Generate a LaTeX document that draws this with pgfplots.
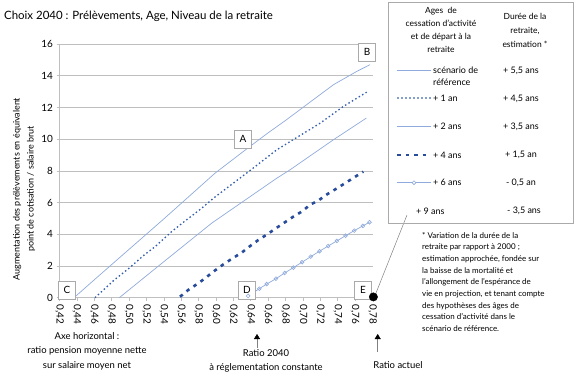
\documentclass[border=0pt]{standalone}
\usepackage{fontspec}
\setmainfont{Lato}
\usepackage{pgfplots}
\pgfplotsset{compat=1.18}
\usetikzlibrary{arrows.meta}
\definecolor{refblue}{RGB}{143,170,220}
\definecolor{dotblue}{RGB}{52,94,170}
\definecolor{darkblue}{RGB}{40,76,155}
\definecolor{gridgray}{RGB}{191,191,191}
\definecolor{boxgray}{RGB}{170,170,170}
\tikzset{lbl/.style={draw=boxgray, fill=white, minimum width=17bp, minimum height=18bp, inner sep=0pt, font=\fontsize{10}{12}\selectfont}}
\begin{document}
\begin{tikzpicture}[x=1bp,y=1bp]
\path[use as bounding box] (0,0) rectangle (578,379);
\begin{axis}[
  at={(59.5bp,81.3bp)}, anchor=south west,
  scale only axis, width=313bp, height=253.7bp,
  xmin=0.42, xmax=0.78, ymin=0, ymax=16,
  xtick={0.42,0.44,0.46,0.48,0.50,0.52,0.54,0.56,0.58,0.60,0.62,0.64,0.66,0.68,0.70,0.72,0.74,0.76,0.78},
  ytick={0,2,4,6,8,10,12,14,16},
  ymajorgrids, grid style={draw=gridgray, line width=0.6bp},
  axis x line=bottom, axis y line=left,
  axis line style={-, draw=gridgray, line width=0.6bp},
  tick align=outside, major tick length=3bp,
  tick style={draw=gridgray, line width=0.6bp},
  /pgf/number format/assume math mode=true,
  xticklabel style={rotate=-90, anchor=west, font=\fontsize{10}{12}\selectfont,
    /pgf/number format/.cd, fixed, fixed zerofill, precision=2, use comma},
  yticklabel style={font=\fontsize{10}{12}\selectfont},
  clip=false,
]
% scénario de référence
\addplot[refblue, line width=0.7bp] coordinates {
(0.4367,0) (0.46,1.13) (0.50,3.05) (0.54,4.97) (0.5988,7.85) (0.639,9.54) (0.66,10.4) (0.681,11.22) (0.70,12.0) (0.735,13.43) (0.7618,14.27) (0.777,14.69)};
% +1 an
\addplot[dotblue, line width=1.3bp, dash pattern=on 1.5bp off 2.5bp] coordinates {
(0.4608,0) (0.483,1.12) (0.50,1.86) (0.5175,2.7) (0.53,3.22) (0.549,4.17) (0.5635,4.8) (0.5835,5.64) (0.5969,6.27) (0.641,8.1) (0.6697,9.32) (0.6928,10.1) (0.7196,11.0) (0.7464,12.06) (0.7733,12.96)};
% +2 ans
\addplot[refblue, line width=0.7bp] coordinates {
(0.4888,0) (0.53,1.83) (0.595,4.7) (0.670,7.54) (0.685,8.06) (0.735,9.96) (0.773,11.33)};
% +4 ans
\addplot[darkblue, line width=2.6bp, dash pattern=on 3.5bp off 5bp] coordinates {
(0.5586,0.06) (0.5681,0.49) (0.5796,0.91) (0.5873,1.22) (0.5969,1.64) (0.6084,2.1) (0.6192,2.49) (0.6295,2.84) (0.6383,3.22) (0.6487,3.64) (0.659,4.0) (0.669,4.38) (0.6793,4.76) (0.6889,5.11) (0.6986,5.43) (0.708,5.85) (0.7188,6.17) (0.728,6.53) (0.738,6.86) (0.7484,7.22) (0.7587,7.58) (0.7694,7.95)};
% +6 ans
\addplot[refblue, line width=0.7bp, mark=o, mark size=1.9bp, mark options={fill=white, line width=0.6bp}] coordinates {
(0.637,0.11) (0.6498,0.57) (0.6583,0.86) (0.669,1.2) (0.679,1.56) (0.689,1.9) (0.699,2.24) (0.709,2.59) (0.719,2.93) (0.729,3.26) (0.739,3.58) (0.749,3.91) (0.759,4.23) (0.769,4.53) (0.7765,4.76)};
\node[lbl] at (axis cs:0.631,10.0) {A};
\node[lbl] at (axis cs:0.7737,15.5) {B};
\node[lbl] at (axis cs:0.4286,0.5) {C};
\node[lbl] at (axis cs:0.6356,0.5) {D};
\node[lbl] at (axis cs:0.769,0.5) {E};
% +9 ans
\addplot[only marks, mark=*, mark size=4.2bp, black] coordinates {(0.781,0.05)};
\end{axis}
% title
\node[anchor=west, font=\fontsize{11.5}{14}\selectfont, inner sep=0pt] at (4,363) {Choix 2040 : Prélèvements, Age, Niveau de la retraite};
% y label
\node[rotate=90, align=center, font=\fontsize{9}{14}\selectfont] at (24,190) {Augmentation des prélèvements en équivalent\\point de cotisation / salaire brut};
% bottom texts
\node[align=center, font=\fontsize{9.5}{14.5}\selectfont] at (87,28) {Axe horizontal :\\ratio pension moyenne nette\\sur salaire moyen net};
\node[align=center, font=\fontsize{9.5}{14}\selectfont] at (266,18) {Ratio 2040\\à réglementation constante};
\node[font=\fontsize{9.5}{14}\selectfont] at (398,14) {Ratio actuel};
\draw[gray, line width=0.5bp, -{Triangle[width=6bp,length=5bp,color=black,fill=black]}] (257,31) -- (257,45);
\draw[gray, line width=0.5bp, -{Triangle[width=6bp,length=5bp,color=black,fill=black]}] (377.7,27) -- (377.7,45);
\draw[gray, line width=0.5bp] (376,86) -- (407,164);
% legend box
\draw[boxgray, line width=0.6bp] (388,377) rectangle (573,156);
\node[align=center, font=\fontsize{8.5}{13}\selectfont] at (441,349.5) {Ages\ \ de\\cessation d'activité\\et de départ à la\\retraite};
\node[align=center, font=\fontsize{8.5}{14}\selectfont] at (525,349) {Durée de la\\retraite,\\estimation *};
\draw[refblue, line width=0.7bp] (397,309) -- (431,309);
\draw[dotblue!60, line width=1.2bp, dash pattern=on 1.5bp off 2.5bp] (397,281) -- (431,281);
\draw[refblue, line width=0.7bp] (397,252.3) -- (431,252.3);
\draw[darkblue, line width=2.6bp, dash pattern=on 3.5bp off 5bp] (397,224) -- (431,224);
\draw[refblue, line width=0.7bp] (397,196.3) -- (431,196.3);
\draw[refblue, fill=white, line width=0.6bp] (414,196.3) circle (1.9bp);
\begin{scope}[every node/.style={font=\fontsize{9}{11}\selectfont, inner sep=1pt}]
\node[anchor=west] at (432,309) {scénario de};
\node[anchor=west] at (432,296.3) {référence};
\node[anchor=west] at (432,281) {+ 1 an};
\node[anchor=west] at (432,252.3) {+ 2 ans};
\node[anchor=west] at (432,224) {+ 4 ans};
\node[anchor=west] at (432,196.3) {+ 6 ans};
\node[anchor=west] at (415,167.3) {+ 9 ans};
\node at (521,308) {+ 5,5 ans};
\node at (521,280) {+ 4,5 ans};
\node at (521,252) {+ 3,5 ans};
\node at (521,224) {+ 1,5 an};
\node at (521,196) {- 0,5 an};
\node at (524,168) {- 3,5 ans};
\end{scope}
% footnote
\node[anchor=north west, align=left, inner sep=0pt, font=\fontsize{8}{11.7}\selectfont] at (422,147) {* Variation de la durée de la\\retraite par rapport à 2000 ;\\estimation approchée, fondée sur\\la baisse de la mortalité et\\l'allongement de l'espérance de\\vie en projection, et tenant compte\\des hypothèses des âges de\\cessation d'activité dans le\\scénario de référence.};
\end{tikzpicture}
\end{document}
